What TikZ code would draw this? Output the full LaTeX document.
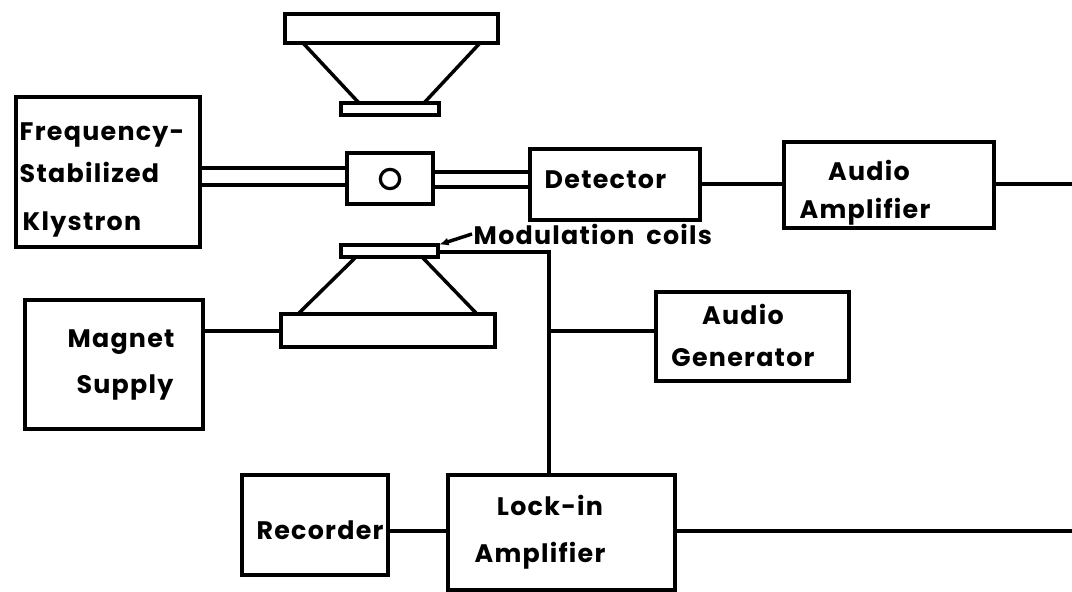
\documentclass[tikz,border=0pt]{standalone}
\usepackage{fontspec}
\setmainfont[Ligatures=NoCommon,LetterSpace=5]{Poppins}
\usetikzlibrary{arrows.meta}
\begin{document}
\begin{tikzpicture}[x=0.75pt,y=-0.75pt,line width=2.6pt,
 blk/.style={draw=black,fill=white,inner sep=0pt,outer sep=0pt,rectangle},
 lbl/.style={font=\fontsize{19}{23}\selectfont\bfseries,inner sep=0pt,align=center}]
\useasboundingbox (0,0) rectangle (1072,592);
\fill[white] (0,0) rectangle (1072,592);
\def\bx#1#2#3#4#5{\node[blk,anchor=north west,minimum width=#4*0.75pt-#2*0.75pt,minimum height=#5*0.75pt-#3*0.75pt] (#1) at (#2,#3) {};}
% top magnet
\bx{tp}{285}{14}{498}{43}
\bx{tc}{341}{103}{439}{115}
\coordinate (a1) at (303,43);\coordinate (a2) at (359,103);\coordinate (a3) at (480,43);\coordinate (a4) at (424,103);
\draw (a1)--(a2) (a3)--(a4);
% bottom magnet
\bx{bc}{341}{245}{438}{257}
\bx{bp}{281}{314}{495}{347}
\coordinate (b1) at (356,257);\coordinate (b2) at (298,314);\coordinate (b3) at (422,257);\coordinate (b4) at (477,314);
\draw (b1)--(b2) (b3)--(b4);
% boxes
\bx{kly}{16}{97}{200}{247}
\bx{cav}{347}{153}{433}{204}
\bx{det}{530}{149}{700}{220}
\bx{aud}{784}{142}{994}{228}
\bx{mag}{25}{300}{203}{429}
\bx{gen}{656}{292}{849}{381}
\bx{rec}{242}{475}{388}{575}
\bx{lock}{448}{475}{675}{590}
% waveguides
\coordinate (w1) at (200,168);\coordinate (w2) at (347,168);\coordinate (w3) at (200,185);\coordinate (w4) at (347,185);
\coordinate (w5) at (433,172);\coordinate (w6) at (530,172);\coordinate (w7) at (433,187);\coordinate (w8) at (530,187);
\draw (w1)--(w2) (w3)--(w4) (w5)--(w6) (w7)--(w8);
% connectors
\coordinate (o1) at (1072,184);\coordinate (o2) at (1072,531);
\coordinate (ym) at (0,331);
\draw (det.east |- o1) -- (aud.west |- o1);
\draw (aud.east |- o1) -- (o1);
\draw (lock.east |- o2) -- (o2);
\draw (mag.east |- ym) -- (bp.west |- ym);
\draw (rec.east |- o2) -- (lock.west |- o2);
\coordinate (j) at (549,331);\coordinate (c) at (549,252);
\draw (bc.east |- c) -- (c) -- (lock.north -| c);
\draw (j) -- (gen.west |- j);
% text
\node[draw,circle,minimum size=14.5pt,line width=2.4pt,inner sep=0pt] (o) at (390,179) {};
\node[lbl,anchor=west] (t1) at (18,135) {Frequency-};
\node[lbl,anchor=west] (t2) at (18,172) {Stabilized};
\node[lbl,anchor=west] (t3) at (21,224) {Klystron};
\node[lbl,anchor=west] (t4) at (543,180) {Detector};
\node[lbl] (t5) at (869,170) {Audio};
\node[lbl] (t6) at (865,212) {Amplifier};
\node[lbl,anchor=west] (t7) at (472,234) {Modulation\hspace{9pt}coils};
\node[lbl] (t8) at (743,314) {Audio};
\node[lbl] (t9) at (743,358) {Generator};
\node[lbl] (t10) at (121,342) {Magnet};
\node[lbl] (t11) at (125,387) {Supply};
\node[lbl] (t12) at (320,530) {Recorder};
\node[lbl] (t13) at (550,505) {Lock-in};
\node[lbl] (t14) at (540,556) {Amplifier};
\draw[-{Latex[length=7pt,width=6pt]},shorten >=1pt] (t7.west) -- (bc.north east);
\end{tikzpicture}
\end{document}
